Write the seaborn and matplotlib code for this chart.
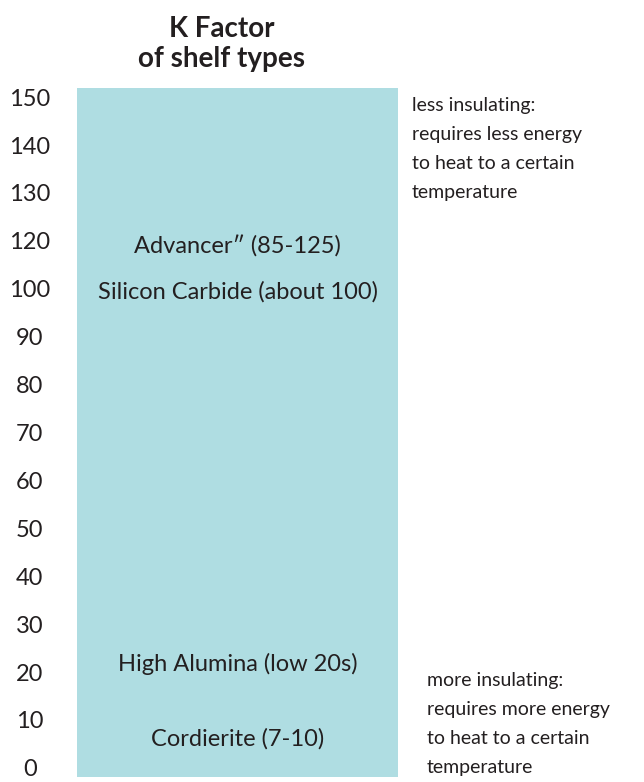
import matplotlib
matplotlib.use('Agg')
import matplotlib.pyplot as plt
import seaborn as sns

# scale labels, bottom to top (110 is skipped on the original scale)
scale_labels = ['0', '10', '20', '30', '40', '50', '60', '70', '80', '90',
                '100', '120', '130', '140', '150']

# shelf types and where they sit on the scale (in scale steps)
shelf_names = ['Advancer\u2033 (85-125)', 'Silicon Carbide (about 100)',
               'High Alumina (low 20s)', 'Cordierite (7-10)']
shelf_pos = [10.9, 9.94, 2.17, 0.6]

side_notes = ['less insulating:\nrequires less energy\nto heat to a certain\ntemperature',
              'more insulating:\nrequires more energy\nto heat to a certain\ntemperature']
side_pos = [12.92, 0.91]

sns.set_style('white')
plt.rcParams['font.family'] = ['Lato', 'DejaVu Sans']
text_color = '#231F20'
bar_color = '#AFDDE2'

fig = plt.figure(figsize=(6.44, 7.82), dpi=100)
ax = fig.add_axes([77 / 644, 1 - 777 / 782, 321 / 644, 689 / 782])

positions = list(range(len(scale_labels)))
pad = 0.19
ax.bar(0.5, positions[-1] + 2 * pad, bottom=positions[0] - pad, width=1.0,
       color=bar_color, edgecolor='none')
ax.set_xlim(0, 1)
ax.set_ylim(positions[0] - pad, positions[-1] + pad)

ax.set_yticks(positions)
ax.set_yticklabels(scale_labels, fontsize=17, color=text_color, ha='center')
ax.tick_params(axis='y', length=0, pad=34)
ax.set_xticks([])
sns.despine(ax=ax, left=True, bottom=True)

for name, pos in zip(shelf_names, shelf_pos):
    ax.text(0.5, pos, name, ha='center', va='center', fontsize=17, color=text_color)

ax.text(1.044, side_pos[0], side_notes[0], ha='left', va='center',
        fontsize=14, color=text_color, linespacing=1.85)
ax.text(1.09, side_pos[1], side_notes[1], ha='left', va='center',
        fontsize=14, color=text_color, linespacing=1.85)

fig.text(222 / 644, 1 - 44 / 782, 'K Factor\nof shelf types', ha='center', va='center',
         fontsize=20, fontweight='bold', color=text_color, linespacing=1.2)

fig.savefig('out.png', dpi=100)
